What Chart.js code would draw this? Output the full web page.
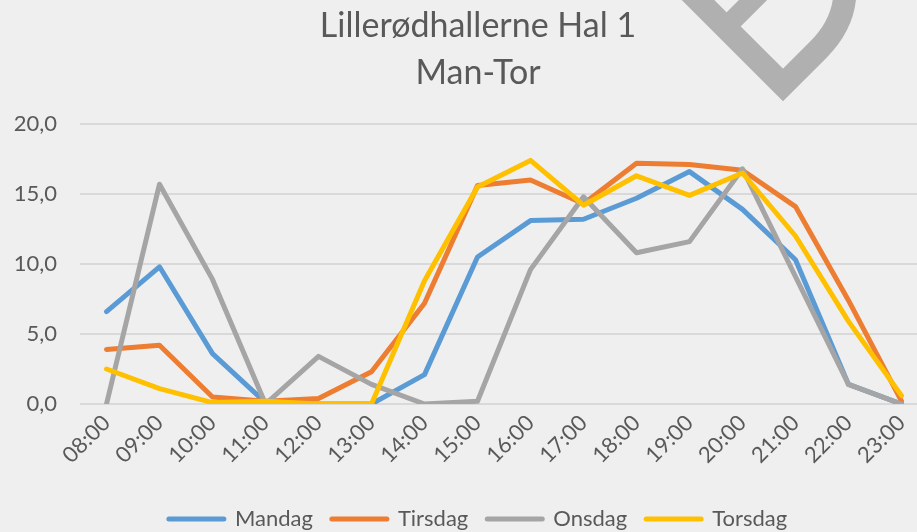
<!DOCTYPE html>
<html>
<head>
<meta charset="utf-8">
<script src="https://cdn.jsdelivr.net/npm/chart.js@4/dist/chart.umd.min.js"></script>
<style>
  html, body { margin: 0; padding: 0; overflow: hidden; background: #efefef; }
  #wrap { position: absolute; left: 0; top: 0; width: 956px; height: 532px; }
</style>
</head>
<body>
<div id="wrap"><canvas id="c"></canvas></div>
<script>
// ---- data ----
const categories = ['08:00','09:00','10:00','11:00','12:00','13:00','14:00','15:00','16:00','17:00','18:00','19:00','20:00','21:00','22:00','23:00'];
const mandag  = [6.6, 9.8, 3.6, 0.1, 0.0, 0.0, 2.1, 10.5, 13.1, 13.2, 14.7, 16.6, 13.9, 10.3, 1.4, 0.0];
const tirsdag = [3.9, 4.2, 0.5, 0.2, 0.4, 2.3, 7.2, 15.6, 16.0, 14.3, 17.2, 17.1, 16.7, 14.1, 7.4, 0.2];
const onsdag  = [0.0, 15.7, 8.9, 0.0, 3.4, 1.4, 0.0, 0.2, 9.6, 14.8, 10.8, 11.6, 16.8, 9.1, 1.4, 0.0];
const torsdag = [2.5, 1.1, 0.1, 0.2, 0.0, 0.0, 8.8, 15.5, 17.4, 14.2, 16.3, 14.9, 16.5, 12.0, 5.9, 0.6];
const seriesNames = ['Mandag', 'Tirsdag', 'Onsdag', 'Torsdag'];
const yTickLabels = ['0,0', '5,0', '10,0', '15,0', '20,0'];
const titleLines = ['Lillerødhallerne Hal 1', 'Man-Tor'];

const colors = ['#5B9BD5', '#ED7D31', '#A5A5A5', '#FFC000'];
const TEXT = '#595959';
Chart.defaults.font.family = 'Lato, "Open Sans", sans-serif';
Chart.defaults.color = TEXT;

const watermark = {
  id: 'watermark',
  beforeDraw(chart) {
    const ctx = chart.ctx;
    ctx.save();
    ctx.strokeStyle = '#b0b0b0';
    ctx.lineJoin = 'miter';
    ctx.lineCap = 'butt';
    ctx.lineWidth = 23;
    ctx.beginPath();
    ctx.moveTo(676, -22);
    ctx.lineTo(783, 85);
    ctx.lineTo(818, 50);
    ctx.quadraticCurveTo(845, 23, 845, -10);
    ctx.stroke();
    ctx.lineWidth = 20;
    ctx.beginPath();
    ctx.moveTo(722, 31);
    ctx.lineTo(770, -17);
    ctx.stroke();
    ctx.restore();
  }
};

const allSeries = [mandag, tirsdag, onsdag, torsdag];
const datasets = allSeries.map((d, i) => ({
  label: seriesNames[i],
  data: d,
  borderColor: colors[i],
  backgroundColor: colors[i],
  borderWidth: 5,
  borderJoinStyle: 'round',
  borderCapStyle: 'round',
  pointRadius: 0,
  pointHoverRadius: 0,
  tension: 0,
  order: allSeries.length - i
}));

new Chart(document.getElementById('c'), {
  type: 'line',
  data: { labels: categories, datasets },
  plugins: [watermark],
  options: {
    responsive: true,
    maintainAspectRatio: false,
    animation: false,
    layout: { padding: { left: 0, right: 0, top: 0, bottom: -8 } },
    plugins: {
      title: {
        display: true,
        text: titleLines,
        color: TEXT,
        font: { size: 34, weight: 'normal', lineHeight: '47px' },
        padding: { top: 3, bottom: 27 }
      },
      legend: {
        position: 'bottom',
        labels: {
          usePointStyle: true,
          pointStyle: 'line',
          pointStyleWidth: 55,
          padding: 19,
          color: TEXT,
          font: { size: 22 },
          sort: (a, b) => a.datasetIndex - b.datasetIndex,
          generateLabels(chart) {
            const items = Chart.defaults.plugins.legend.labels.generateLabels(chart);
            items.forEach(it => {
              it.strokeStyle = colors[it.datasetIndex];
              it.fillStyle = colors[it.datasetIndex];
              it.lineWidth = 5;
              it.lineCap = 'round';
              it.pointStyle = 'line';
            });
            return items;
          }
        }
      },
      tooltip: { enabled: false }
    },
    scales: {
      x: {
        offset: true,
        grid: { display: false, drawTicks: false },
        border: { display: false },
        ticks: { minRotation: 45, maxRotation: 45, autoSkip: false, padding: 6, color: TEXT, font: { size: 22 } },
        afterFit(scale) { scale.height = 85; }
      },
      y: {
        min: 0, max: 20,
        ticks: {
          stepSize: 5, padding: 23, color: TEXT, font: { size: 22 },
          callback: (v) => yTickLabels[Math.round(v / 5)]
        },
        grid: { color: '#d9d9d9', lineWidth: 2, drawTicks: false },
        border: { display: false },
        afterFit(scale) { scale.width = 80; }
      },
      yRight: {
        position: 'right',
        min: 0, max: 20,
        ticks: { display: false },
        grid: { display: false, drawTicks: false },
        border: { display: false },
        afterFit(scale) { scale.width = 28; }
      }
    }
  }
});
</script>
</body>
</html>
